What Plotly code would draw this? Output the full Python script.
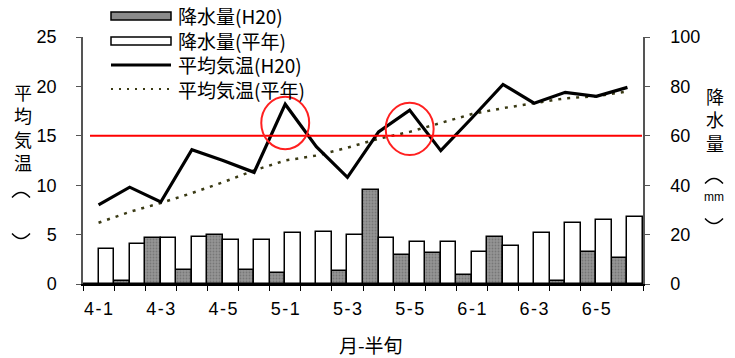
import plotly.graph_objects as go

# 月-半旬 categories (six pentads per month, April to June)
categories = ["4-1", "4-2", "4-3", "4-4", "4-5", "4-6",
              "5-1", "5-2", "5-3", "5-4", "5-5", "5-6",
              "6-1", "6-2", "6-3", "6-4", "6-5", "6-6"]
tick_labels = ["4-1", "", "4-3", "", "4-5", "",
               "5-1", "", "5-3", "", "5-5", "",
               "6-1", "", "6-3", "", "6-5", ""]

# precipitation (mm)
rain_h20 = [0, 1.3, 18.5, 5.7, 19.8, 5.7, 4.3, 0, 5.1,
            38.2, 11.7, 12.4, 3.6, 18.9, 0, 1.3, 13.1, 10.4]
rain_normal = [14.2, 16.2, 18.5, 19.2, 17.8, 17.8, 20.5, 20.9, 19.8,
               18.5, 17.1, 17.1, 13.1, 15.4, 20.5, 24.7, 25.9, 27.3]

# mean temperature (deg C)
temp_h20 = [8.0, 9.8, 8.3, 13.6, 12.5, 11.3, 18.2, 13.9, 10.8,
            15.4, 17.6, 13.5, 16.8, 20.2, 18.3, 19.4, 19.0, 19.9]
temp_normal = [6.2, 7.3, 8.2, 9.2, 10.3, 11.5, 12.5, 13.0, 13.8,
               14.7, 15.4, 16.3, 17.2, 17.8, 18.3, 18.8, 19.0, 19.5]

threshold = 15
highlight = [6, 10]  # pentads to circle

W, H = 735, 358
ML, MR, MT, MB = 83, 92, 37, 74
PW, PH = W - ML - MR, H - MT - MB

def px(x):
    return (x - ML) / PW

def py(y):
    return (H - MB - y) / PH

FONT = "Arial, Liberation Sans, Noto Sans CJK JP, sans-serif"
CJK = "Noto Sans CJK JP, sans-serif"
OLIVE = "#3a3a14"
HS = "\u200a"  # hair space used to loosen the tick labels

fig = go.Figure()

fig.add_trace(go.Bar(
    x=categories, y=rain_h20, name="降水量(H20)", yaxis="y",
    marker=dict(color="#8a8a8a", line=dict(color="black", width=1.5),
                pattern=dict(shape=".", fgcolor="#5a5a5a", bgcolor="#959595",
                             size=3, solidity=0.3)),
    showlegend=False))
fig.add_trace(go.Bar(
    x=categories, y=rain_normal, name="降水量(平年)", yaxis="y",
    marker=dict(color="white", line=dict(color="black", width=1.5)),
    showlegend=False))
fig.add_trace(go.Scatter(
    x=categories, y=temp_normal, name="平均気温(平年)", yaxis="y2",
    mode="lines", line=dict(color=OLIVE, width=2.5, dash="3px,6px"),
    showlegend=False))
fig.add_trace(go.Scatter(
    x=categories, y=temp_h20, name="平均気温(H20)", yaxis="y2",
    mode="lines", line=dict(color="black", width=3.2),
    showlegend=False))

shapes = []
# 15 deg C reference line
shapes.append(dict(type="line", xref="paper", yref="y2",
                   x0=px(90), x1=px(642), y0=threshold, y1=threshold,
                   line=dict(color="#ff0000", width=2)))
# circles around the warm peaks
for i in highlight:
    cy = temp_h20[i] - 1.9
    shapes.append(dict(type="circle", xref="x", yref="y2",
                       x0=i - 0.77, x1=i + 0.77, y0=cy - 2.65, y1=cy + 2.65,
                       line=dict(color="#ff2020", width=2)))

# legend drawn by hand
sx0, sx1 = px(111), px(171)
rows = [16, 41, 65, 89]
shapes.append(dict(type="rect", xref="paper", yref="paper",
                   x0=sx0, x1=sx1, y0=py(rows[0] + 4), y1=py(rows[0] - 4),
                   fillcolor="#8a8a8a", line=dict(color="black", width=1.5)))
shapes.append(dict(type="rect", xref="paper", yref="paper",
                   x0=sx0, x1=sx1, y0=py(rows[1] + 4), y1=py(rows[1] - 4),
                   fillcolor="white", line=dict(color="black", width=1.5)))
shapes.append(dict(type="line", xref="paper", yref="paper",
                   x0=sx0, x1=sx1, y0=py(rows[2]), y1=py(rows[2]),
                   line=dict(color="black", width=3)))
shapes.append(dict(type="line", xref="paper", yref="paper",
                   x0=sx0, x1=sx1, y0=py(rows[3]), y1=py(rows[3]),
                   line=dict(color=OLIVE, width=2, dash="2px,6px")))


def bracket(xc, yc, up, half=9, depth=5):
    """Vertical-writing bracket drawn as a shallow arc (up=True gives the opening one)."""
    sgn = -1 if up else 1
    x0, x1 = px(xc - half), px(xc + half)
    ye = py(yc - sgn * depth / 2)
    yc_ctrl = py(yc + sgn * depth * 1.5)
    shapes.append(dict(type="path", xref="paper", yref="paper",
                       path=f"M {x0},{ye} Q {px(xc)},{yc_ctrl} {x1},{ye}",
                       line=dict(color="black", width=1.4)))


annotations = []
legend_texts = ["降水量(H20)", "降水量(平年)", "平均気温(H20)", "平均気温(平年)"]
annotations.append(dict(text="<br>".join(legend_texts), xref="paper", yref="paper",
                        x=px(176), y=py((rows[0] + rows[-1]) / 2),
                        xanchor="left", yanchor="middle", align="left",
                        showarrow=False, font=dict(family=CJK, size=19, color="black")))


def vtext(txt, x, y, size=18, family=CJK):
    annotations.append(dict(text=txt, xref="paper", yref="paper",
                            x=px(x), y=py(y), xanchor="center", yanchor="middle",
                            showarrow=False,
                            font=dict(family=family, size=size, color="black")))


# left title: 平均気温 (℃) written vertically
vtext("平<br>均<br>気<br>温", 23, 127)
bracket(21, 195, up=True)
bracket(21, 236, up=False)

# right title: 降水量 (mm) written vertically
vtext("降<br>水<br>量", 715, 120)
bracket(714, 181, up=True)
vtext("mm", 714, 197, size=12, family="Liberation Sans Narrow, Arial Narrow, Arial, sans-serif")
bracket(714, 221, up=False)

vtext("月-半旬", 371, 344, size=19)

fig.update_layout(
    width=W, height=H,
    margin=dict(l=ML, r=MR, t=MT, b=MB, pad=0),
    paper_bgcolor="white", plot_bgcolor="white",
    barmode="group", bargap=0, bargroupgap=0,
    font=dict(family=FONT, size=18, color="black"),
    xaxis=dict(type="category", tickmode="array", tickvals=categories,
               ticktext=[t.replace("-", f"{HS}-{HS}") for t in tick_labels],
               tickson="boundaries", ticks="outside", ticklen=5, tickcolor="black",
               tickangle=0, ticklabelstandoff=8,
               showline=True, linecolor="black", linewidth=1.5, showgrid=False,
               range=[-0.5, 17.5], tickfont=dict(size=18)),
    yaxis=dict(side="right", range=[0, 100], tickvals=[0, 20, 40, 60, 80, 100],
               ticks="outside", ticklen=5, tickcolor="#555", showline=True,
               ticklabelstandoff=17,
               linecolor="#555", linewidth=1.5, showgrid=False, zeroline=False,
               tickfont=dict(size=18)),
    yaxis2=dict(side="left", overlaying="y", range=[0, 25], tickvals=[0, 5, 10, 15, 20, 25],
                ticks="outside", ticklen=5, tickcolor="#555", showline=True,
                ticklabelstandoff=16,
                linecolor="#555", linewidth=1.5, showgrid=False, zeroline=False,
                tickfont=dict(size=18)),
    shapes=shapes, annotations=annotations,
)

fig.write_html("out.html")
